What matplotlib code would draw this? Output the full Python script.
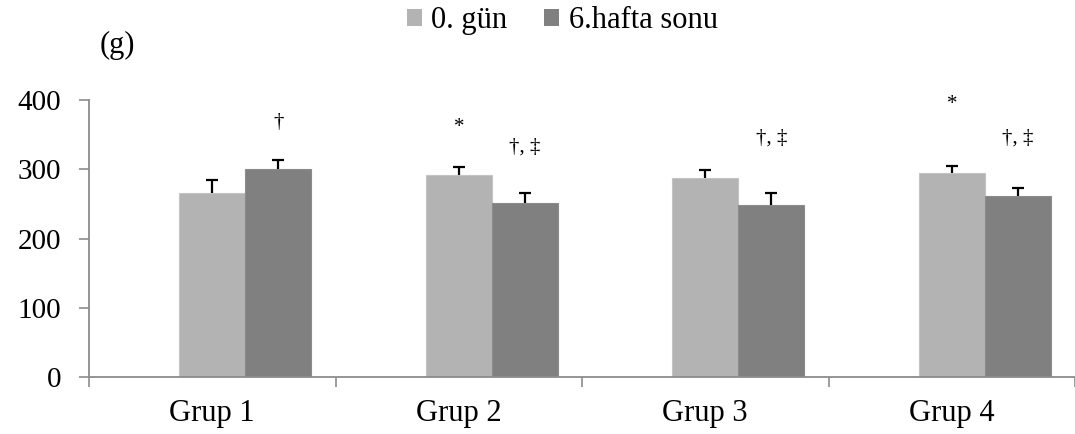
import matplotlib
matplotlib.use("Agg")
import matplotlib.pyplot as plt
import numpy as np
from matplotlib.patches import Patch

plt.rcParams['font.family'] = ['Liberation Serif', 'DejaVu Serif']

groups = ["Grup 1", "Grup 2", "Grup 3", "Grup 4"]
series_names = ["0. gün", "6.hafta sonu"]
day0 = [265, 292, 288, 294]
day0_err = [19, 11, 11, 11]
week6 = [300, 251, 249, 261]
week6_err = [13, 14, 17, 12]

# significance marks: (group index, series index, text, y level)
marks = [
    (0, 1, "\u2020", 367),
    (1, 0, "*", 361),
    (1, 1, "\u2020, \u2021", 332),
    (2, 1, "\u2020, \u2021", 345),
    (3, 0, "*", 393),
    (3, 1, "\u2020, \u2021", 345),
]

light = "#b3b3b3"
dark = "#808080"
axis_col = "#8c8c8c"

fig = plt.figure(figsize=(10.75, 4.34), dpi=100)
ax = fig.add_axes([0.0828, 0.1313, 0.9172, 0.6383])

x = np.arange(len(groups))
w = 0.268
xs = [x, x + w]
ax.bar(xs[0], day0, width=w, color=light, edgecolor="#c4c4c4", linewidth=0.8, zorder=2)
ax.bar(xs[1], week6, width=w, color=dark, edgecolor="#8c8c8c", linewidth=0.8, zorder=2)


def upper_errorbars(xpos, vals, errs):
    vals = np.asarray(vals, float)
    tops = vals + np.asarray(errs, float)
    cap = 0.025
    ax.vlines(xpos, vals, tops, color="black", linewidth=1.6, zorder=3)
    ax.hlines(tops, xpos - cap, xpos + cap, color="black", linewidth=1.6, zorder=3)


upper_errorbars(xs[0], day0, day0_err)
upper_errorbars(xs[1], week6, week6_err)

for gi, si, txt, yv in marks:
    ax.text(xs[si][gi], yv, txt, ha="center", va="center", fontsize=15)

ax.set_xlim(-0.5, 3.5)
ax.set_ylim(0, 400)
ax.set_yticks([0, 100, 200, 300, 400])
ax.set_xticks(x)
ax.set_xticklabels(groups)
ax.set_xticks(np.arange(-0.5, 4.0, 1.0), minor=True)
ax.tick_params(axis="x", which="major", length=0, pad=16, labelsize=22)
ax.tick_params(axis="x", which="minor", length=7, color=axis_col, width=1.2)
ax.tick_params(axis="y", length=7, color=axis_col, width=1.2, labelsize=21, pad=13)

for s in ["top", "right"]:
    ax.spines[s].set_visible(False)
for s in ["left", "bottom"]:
    ax.spines[s].set_color(axis_col)
    ax.spines[s].set_linewidth(1.3)

fig.text(0.109, 0.895, "(g)", fontsize=22, ha="center", va="center")

handles = [Patch(facecolor=light, edgecolor="none"), Patch(facecolor=dark, edgecolor="none")]
fig.legend(handles, series_names, loc="center", bbox_to_anchor=(0.523, 0.952), ncol=2,
           frameon=False, fontsize=22, handlelength=0.5, handleheight=0.5,
           handletextpad=0.3, columnspacing=1.2)

fig.savefig("out.png", dpi=100)
